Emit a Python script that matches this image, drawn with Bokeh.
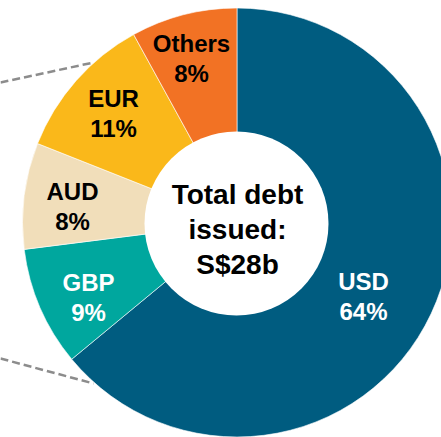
import math
from bokeh.plotting import figure
from bokeh.models import Range1d, ColumnDataSource
from bokeh.embed import file_html
from bokeh.resources import INLINE
from bokeh.core.properties import value

# ---- data ----
currencies = ["USD", "GBP", "AUD", "EUR", "Others"]
shares = [64, 9, 8, 11, 8]
colors = ["#005C80", "#00A79E", "#F1DEBA", "#FAB81A", "#F27224"]
label_colors = ["white", "white", "black", "black", "black"]
center_text = "Total debt\nissued:\nS$28b"

# ---- layout (screen-pixel coordinates) ----
W, H = 441, 437
def sy(y):  # screen y -> data y
    return H - y

cx, cy = 236.5, sy(222)
r_out = 214.5
r_in = 92
# label anchor points (screen coordinates)
label_xy = [(363, 296), (88, 297), (72, 206), (113, 113), (191, 58)]

total = float(sum(shares))
starts, ends = [], []
a = math.pi / 2
for s in shares:
    starts.append(a)
    a -= 2 * math.pi * s / total
    ends.append(a)

src = ColumnDataSource(dict(
    cur=currencies, share=shares, color=colors,
    start=starts, end=ends,
    lx=[p[0] for p in label_xy], ly=[sy(p[1]) for p in label_xy],
    text=[f"{c}\n{s}%" for c, s in zip(currencies, shares)],
    tcolor=label_colors,
))

p = figure(width=W, height=H, output_backend="svg", toolbar_location=None,
           x_range=Range1d(0, W), y_range=Range1d(0, H),
           min_border=0, outline_line_color=None)
p.axis.visible = False
p.grid.visible = False
p.background_fill_color = "white"
p.border_fill_color = "white"

# dashed connector lines
p.line([0, 93], [sy(82), sy(62)], line_color="#8C8C8C", line_width=2.5, line_dash="8 4")
p.line([0, 93], [sy(358), sy(383)], line_color="#8C8C8C", line_width=2.5, line_dash="8 4")

p.wedge(x=cx, y=cy, radius=r_out, start_angle="end", end_angle="start",
        fill_color="color", line_color="white", line_width=0.6, source=src)
p.circle(x=236, y=sy(223), radius=r_in, fill_color="white", line_color=None)

p.text(x="lx", y="ly", text="text", source=src, text_color="tcolor",
       text_font=value("Liberation Sans"), text_font_style="bold",
       text_font_size="24px", text_align="center", text_baseline="middle",
       text_line_height=1.12)

p.text(x=[237], y=[sy(229)], text=[center_text], text_color="black",
       text_font=value("Liberation Sans"), text_font_style="bold",
       text_font_size="28px", text_align="center", text_baseline="middle",
       text_line_height=1.12)

open("out.html", "w").write(file_html(p, INLINE))
